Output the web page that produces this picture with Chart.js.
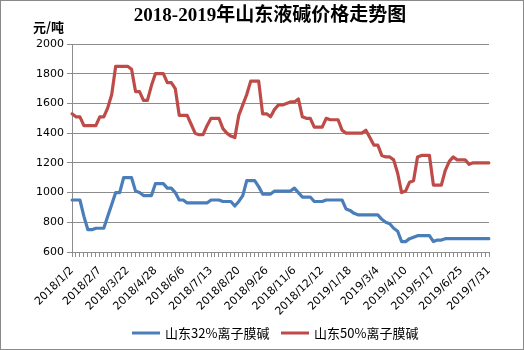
<!DOCTYPE html>
<html>
<head>
<meta charset="utf-8">
<title>2018-2019年山东液碱价格走势图</title>
<script src="https://cdn.jsdelivr.net/npm/chart.js@4.4.1/dist/chart.umd.min.js"></script>
<style>
  html, body { margin: 0; padding: 0; background: #fff; }
  #wrap { width: 524px; height: 350px; }
</style>
</head>
<body>
<div id="wrap"><canvas id="chart" width="524" height="350"></canvas></div>
<script>
// tick dates shown on the x axis, one every 7 samples
const tickLabels = [
  "2018/1/2", "2018/2/7", "2018/3/22", "2018/4/28", "2018/6/6", "2018/7/13",
  "2018/8/20", "2018/9/26", "2018/11/6", "2018/12/12", "2019/1/18", "2019/3/4",
  "2019/4/10", "2019/5/17", "2019/6/25", "2019/7/31"
];
const tickEvery = 7;

// 山东32%离子膜碱 (元/吨)
const naoh32 = [
  950, 950, 950, 840, 750, 750, 760, 760, 760, 840,
  920, 1000, 1000, 1100, 1100, 1100, 1010, 1000, 980, 980,
  980, 1060, 1060, 1060, 1030, 1030, 1000, 950, 950, 930,
  930, 930, 930, 930, 930, 950, 950, 950, 940, 940,
  940, 910, 940, 980, 1080, 1080, 1080, 1040, 990, 990,
  990, 1010, 1010, 1010, 1010, 1010, 1030, 1000, 970, 970,
  970, 940, 940, 940, 950, 950, 950, 950, 950, 890,
  880, 860, 850, 850, 850, 850, 850, 850, 820, 800,
  790, 760, 740, 670, 670, 690, 700, 710, 710, 710,
  710, 670, 680, 680, 690, 690, 690, 690, 690, 690,
  690, 690, 690, 690, 690, 690
];

// 山东50%离子膜碱 (元/吨)
const naoh50 = [
  1530, 1510, 1510, 1450, 1450, 1450, 1450, 1510, 1510, 1570,
  1660, 1850, 1850, 1850, 1850, 1830, 1680, 1680, 1620, 1620,
  1720, 1800, 1800, 1800, 1740, 1740, 1700, 1520, 1520, 1520,
  1460, 1400, 1390, 1390, 1450, 1500, 1500, 1500, 1430, 1400,
  1380, 1370, 1520, 1590, 1660, 1750, 1750, 1750, 1530, 1530,
  1510, 1560, 1590, 1590, 1600, 1610, 1610, 1630, 1510, 1500,
  1500, 1440, 1440, 1440, 1500, 1490, 1490, 1490, 1420, 1400,
  1400, 1400, 1400, 1400, 1420, 1370, 1320, 1320, 1250, 1240,
  1240, 1220, 1130, 1000, 1010, 1070, 1080, 1240, 1250, 1250,
  1250, 1050, 1050, 1050, 1150, 1210, 1240, 1220, 1220, 1220,
  1190, 1200, 1200, 1200, 1200, 1200
];

const seriesNames = ["山东32%离子膜碱", "山东50%离子膜碱"];
const seriesColors = ["#4a7ebb", "#be4b48"];

// one category per sample, the date only on every 7th
const labels = naoh32.map((v, i) => (i % tickEvery === 0 ? tickLabels[i / tickEvery] : ""));

const gridGray = "#8c8c8c";
const cjkSans = '"Noto Sans CJK SC", "DejaVu Sans", sans-serif';

// white background, outer frame, title, unit text and legend
const decorations = {
  id: "decorations",
  beforeDraw(chart) {
    const ctx = chart.ctx;
    ctx.save();
    ctx.fillStyle = "#fff";
    ctx.fillRect(0, 0, chart.width, chart.height);
    ctx.restore();
  },
  afterDraw(chart) {
    const ctx = chart.ctx;
    ctx.save();
    ctx.strokeStyle = "#8a8a8a";
    ctx.lineWidth = 1;
    ctx.strokeRect(0.5, 0.5, chart.width - 1, chart.height - 1);

    ctx.fillStyle = "#000";
    ctx.textBaseline = "middle";
    ctx.textAlign = "center";
    ctx.font = 'bold 19px "Liberation Serif", "Noto Sans CJK SC", serif';
    ctx.fillText("2018-2019年山东液碱价格走势图", 270, 16);

    ctx.textAlign = "left";
    ctx.font = 'bold 13px ' + cjkSans;
    ctx.fillText("元/吨", 33, 27);

    // legend
    const y = 333;
    const starts = [132, 281];
    ctx.font = '13px ' + cjkSans;
    chart.data.datasets.forEach((ds, k) => {
      const x = starts[k];
      ctx.strokeStyle = ds.borderColor;
      ctx.lineWidth = 3;
      ctx.beginPath();
      ctx.moveTo(x, y);
      ctx.lineTo(x + 28, y);
      ctx.stroke();
      ctx.fillStyle = "#000";
      ctx.fillText(ds.label, x + 33, y);
    });
    ctx.restore();
  }
};

new Chart(document.getElementById("chart"), {
  type: "line",
  data: {
    labels: labels,
    datasets: [naoh32, naoh50].map((values, k) => ({
      label: seriesNames[k],
      data: values,
      borderColor: seriesColors[k],
      backgroundColor: seriesColors[k],
      borderWidth: 3.2,
      borderJoinStyle: "round",
      borderCapStyle: "round",
      pointRadius: 0,
      tension: 0,
      fill: false
    }))
  },
  options: {
    responsive: false,
    animation: false,
    layout: { padding: { left: 0, right: 35, top: 44, bottom: 0 } },
    plugins: {
      legend: { display: false },
      title: { display: false },
      tooltip: { enabled: false }
    },
    scales: {
      x: {
        offset: false,
        afterFit: (s) => { s.height = 98; },
        border: { display: true, color: gridGray, width: 1 },
        grid: {
          drawOnChartArea: false,
          drawTicks: true,
          tickLength: 5,
          color: gridGray
        },
        ticks: {
          autoSkip: false,
          minRotation: 45,
          maxRotation: 45,
          padding: 7,
          color: "#000",
          font: { family: '"DejaVu Sans", sans-serif', size: 11 }
        }
      },
      y: {
        min: 600,
        max: 2000,
        afterFit: (s) => { s.width = 72; },
        border: { display: true, color: gridGray, width: 1 },
        grid: {
          color: gridGray,
          lineWidth: 1,
          drawTicks: true,
          tickLength: 5
        },
        ticks: {
          stepSize: 100,
          padding: 3,
          color: "#000",
          font: { family: '"DejaVu Sans", sans-serif', size: 11 },
          callback: (v) => String(v)
        }
      }
    }
  },
  plugins: [decorations]
});
</script>
</body>
</html>
